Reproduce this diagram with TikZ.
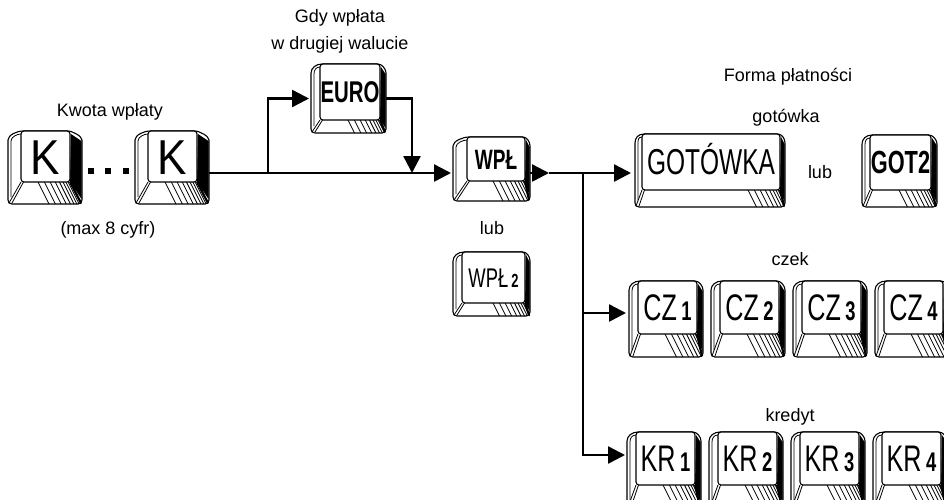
\documentclass[tikz,border=0pt]{standalone}
\usepackage{fontspec}
\setmainfont{Liberation Sans}
\newfontfamily\condA[FakeStretch=0.68]{Liberation Sans}
\newfontfamily\condB[FakeStretch=0.9]{Liberation Sans}
\usetikzlibrary{arrows.meta}

% font size helper and a box whose cap-height middle sits on the reference point
\newcommand\fs[1]{\fontsize{#1}{#1}\selectfont}
\newcommand\capc[1]{\raisebox{-.358em}[0pt][0pt]{#1}}

\tikzset{
  keyframe/.style={rectangle, inner sep=0pt, outer sep=0pt, draw=none},
  keyline/.style={line width=1.1pt, line join=round},
  thinline/.style={line width=0.8pt},
  keylabel/.style={inner sep=0pt},
  caption/.style={inner sep=0pt, font=\fs{18}},
  link/.style={line width=2.5pt},
  flow/.style={line width=2.5pt, -{Triangle[length=17pt,width=17pt]}},
}

% keycap: name, x, y (top left), width, height, left side, right side, bevel, label
\newcommand\keycap[9]{%
  \node[keyframe, minimum width=#4pt, minimum height=#5pt, anchor=north west] (#1) at (#2,#3) {};
  \begin{scope}[shift={(#1.north west)}]
    % body outline
    \filldraw[keyline, fill=white]
      (0,#5-4) -- (0,9) .. controls (0,4) and (#6-4,0) .. (#6+2,0)
      -- (#4-#7-2,0) .. controls (#4-#7+2,0) and (#4,5) .. (#4,9)
      -- (#4,#5-4) .. controls (#4,#5-1.5) and (#4-1.5,#5) .. (#4-4,#5)
      -- (4,#5) .. controls (1.5,#5) and (0,#5-1.5) .. (0,#5-4) -- cycle;
    % dark right side
    \fill (#4-#7+1,3) -- (#4-0.5,10) -- (#4-0.5,#5-5) -- (#4-#7,#5-#8) -- cycle;
    % double edge of the left side and of the lower left corner
    \draw[thinline] (3,#5-7) -- (3,10) .. controls (3,6) and (#6-4,3) .. (#6,3);
    \draw[thinline] (#6,#5-#8) -- (1,#5-1);
    \draw[thinline] (#6+2.5,#5-#8) -- (4,#5-1);
    % hatched front bevel
    \begin{scope}
      \clip (#6,#5-#8) -- (#4-#7,#5-#8) -- (#4,#5) -- (0,#5) -- cycle;
      \foreach \t in {0,.2,.38,.54,.67,.78,.87,.94,1}
        \draw[thinline] ({#4-#7-32+\t*32},#5-#8) -- ++(0.5*#8,#8);
    \end{scope}
    \draw[line width=2.2pt] (#4-#7,#5-#8) -- (#4-1,#5-1);
    % top face
    \filldraw[keyline, fill=white, rounded corners=3pt] (#6,0) rectangle (#4-#7,#5-#8);
    \node[keylabel] (#1-l) at ({(#6+#4-#7)/2},{(#5-#8)/2}) {#9};
  \end{scope}
}

\begin{document}
\begin{tikzpicture}[x=1pt, y=-1pt]
\useasboundingbox (0,0) rectangle (944,499);

% captions
\node[caption] (t-gdy) at (340,18) {Gdy wpłata};
\node[caption] (t-wal) at (340,45) {w drugiej walucie};
\node[caption] (t-kw) at (110,112) {Kwota wpłaty};
\node[caption] (t-max) at (108,230) {(max 8 cyfr)};
\node[caption] (t-lub1) at (492,228) {lub};
\node[caption] (t-forma) at (788,77) {Forma płatności};
\node[caption] (t-got) at (786,118) {gotówka};
\node[caption] (t-lub2) at (820,172) {lub};
\node[caption] (t-czek) at (790,259) {czek};
\node[caption] (t-kred) at (790,417) {kredyt};

% keys
\keycap{k1}{8}{131}{74}{73}{13}{12}{22}{\condB\fs{49}\capc{K}}
\keycap{k2}{135}{131}{74}{73}{13}{12}{22}{\condB\fs{49}\capc{K}}
\keycap{euro}{311}{64}{75}{69}{9}{6}{13}{\condA\bfseries\fs{30}\capc{EURO}}
\keycap{wpl}{453}{137}{77}{64}{14}{5}{20}{\condA\bfseries\fs{28}\capc{WPŁ}}
\keycap{wpl2}{453}{252}{77}{64}{9}{5}{13}{\condA\fs{27}\capc{WPŁ{\bfseries\fs{19}\,2}}}
\keycap{got}{635}{134}{150}{73}{7}{5}{17}{\condA\fs{36}\capc{GOTÓWKA}}
\keycap{got2}{862}{135}{75}{72}{8}{6}{17}{\condA\bfseries\fs{32}\capc{GOT2}}
\keycap{cz1}{629}{281}{74}{76}{9}{6}{23}{\condA\fs{37}\capc{CZ{\bfseries\fs{27}\,1}}}
\keycap{cz2}{711}{281}{74}{76}{9}{6}{23}{\condA\fs{37}\capc{CZ{\bfseries\fs{27}\,2}}}
\keycap{cz3}{793}{281}{74}{76}{9}{6}{23}{\condA\fs{37}\capc{CZ{\bfseries\fs{27}\,3}}}
\keycap{cz4}{875}{281}{74}{76}{9}{6}{23}{\condA\fs{37}\capc{CZ{\bfseries\fs{27}\,4}}}
\keycap{kr1}{627}{432}{74}{76}{9}{6}{23}{\condA\fs{37}\capc{KR{\bfseries\fs{27}\,1}}}
\keycap{kr2}{709}{432}{74}{76}{9}{6}{23}{\condA\fs{37}\capc{KR{\bfseries\fs{27}\,2}}}
\keycap{kr3}{791}{432}{74}{76}{9}{6}{23}{\condA\fs{37}\capc{KR{\bfseries\fs{27}\,3}}}
\keycap{kr4}{873}{432}{74}{76}{9}{6}{23}{\condA\fs{37}\capc{KR{\bfseries\fs{27}\,4}}}

% dots between the digit keys
\foreach \x in {91,108,126}
  \fill (\x-3,168) rectangle (\x+3,174);

% connectors
\coordinate (ml) at (0,173);
\coordinate (b1) at (268,173);
\coordinate (m2) at (412,173);
\coordinate (wt) at (549,173);
\coordinate (j) at (583,173);
\coordinate (jc) at (583,313);
\coordinate (jk) at (583,455);

\draw[flow, shorten >=2pt] (k2.east |- ml) -- (wpl.west |- ml);
\draw[flow, shorten >=2pt] (b1) |- (euro.west);
\draw[flow] (euro.east) -| (m2);
\draw[flow] (wpl.east |- ml) -- (wt);
\draw[link] (wt) -- (j);
\draw[flow, shorten >=4pt] (j) -- (got.west |- j);
\draw[flow, shorten >=3pt] (jc) -- (cz1.west |- jc);
\draw[flow, shorten >=2pt] (j) |- (kr1.west |- jk);
\end{tikzpicture}
\end{document}
